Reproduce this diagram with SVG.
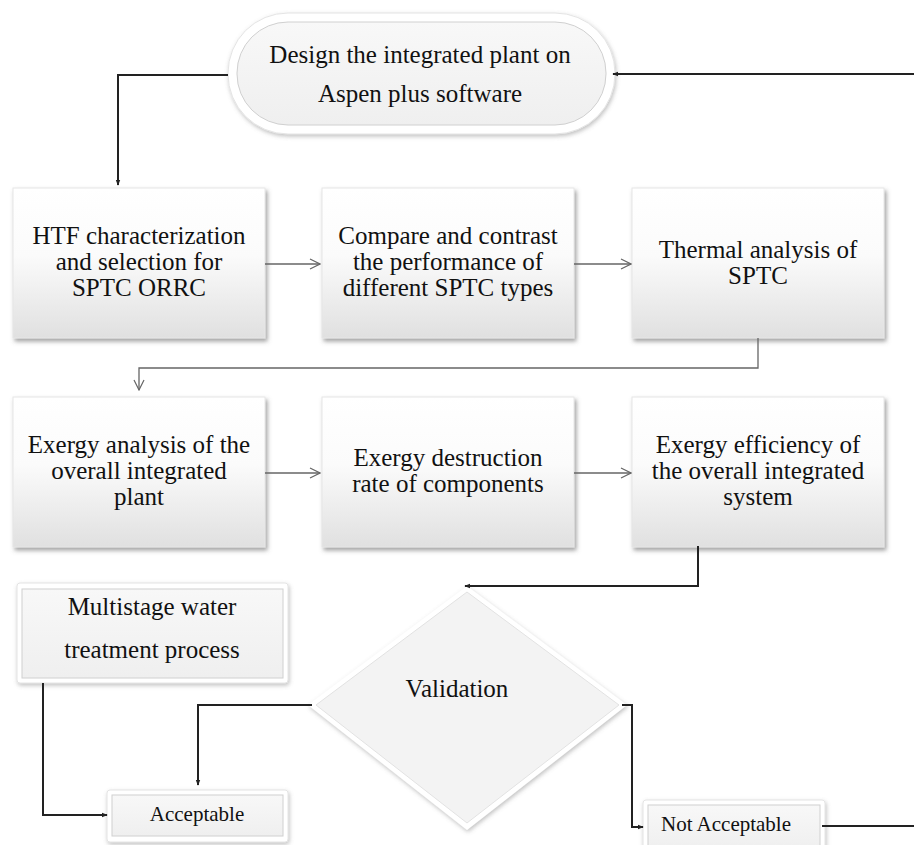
<svg xmlns="http://www.w3.org/2000/svg" width="914" height="845" viewBox="0 0 914 845">
<defs>
<linearGradient id="boxGrad" x1="0" y1="0" x2="0" y2="1">
<stop offset="0" stop-color="#ffffff"/>
<stop offset="0.45" stop-color="#fbfbfb"/>
<stop offset="1" stop-color="#e0e0e0"/>
</linearGradient>
<linearGradient id="softGrad" x1="0" y1="0" x2="0" y2="1">
<stop offset="0" stop-color="#f8f8f8"/>
<stop offset="1" stop-color="#efefef"/>
</linearGradient>
<filter id="shadow" x="-10%" y="-10%" width="125%" height="130%">
<feDropShadow dx="2" dy="3" stdDeviation="2" flood-color="#555" flood-opacity="0.55"/>
</filter>
<filter id="softShadow" x="-10%" y="-10%" width="125%" height="130%">
<feDropShadow dx="1" dy="2" stdDeviation="2" flood-color="#777" flood-opacity="0.45"/>
</filter>
<marker id="openArrow" viewBox="0 0 12 12" refX="11" refY="6" markerWidth="12" markerHeight="12" markerUnits="userSpaceOnUse" orient="auto">
<path d="M1,1 L11,6 L1,11" fill="none" stroke="#666" stroke-width="1.2"/>
</marker>
<marker id="solidArrow" viewBox="0 0 8 8" refX="7" refY="4" markerWidth="6" markerHeight="6" markerUnits="userSpaceOnUse" orient="auto">
<path d="M0,1 L8,4 L0,7 Z" fill="#222"/>
</marker>
</defs>
<style>
text { font-family: "Liberation Serif", "Times New Roman", serif; fill: #111; text-anchor: middle; }
.big { font-size: 25px; }
.small { font-size: 21px; }
.box { fill: url(#boxGrad); stroke: #e6e6e6; stroke-width: 1; filter: url(#shadow); }
.outer { fill: #ffffff; stroke: #e4e4e4; stroke-width: 1; filter: url(#softShadow); }
.inner { fill: url(#softGrad); stroke: #d0d0d0; stroke-width: 1; }
.thin { fill: none; stroke: #666; stroke-width: 1.3; }
.thick { fill: none; stroke: #222; stroke-width: 2; }
</style>

<g id="start">
<rect class="outer" x="228" y="13" width="387" height="121" rx="60"/>
<rect class="inner" x="237" y="22" width="369" height="103" rx="51"/>
<text class="big" x="420" y="63">Design the integrated plant on</text>
<text class="big" x="420" y="102">Aspen plus software</text>
</g>

<g id="htf">
<rect class="box" x="13" y="188" width="252" height="150"/>
<text class="big" x="139" y="244">HTF characterization</text>
<text class="big" x="139" y="270">and selection for</text>
<text class="big" x="139" y="296">SPTC ORRC</text>
</g>

<g id="compare">
<rect class="box" x="322" y="188" width="252" height="150"/>
<text class="big" x="448" y="244">Compare and contrast</text>
<text class="big" x="448" y="270">the performance of</text>
<text class="big" x="448" y="296">different SPTC types</text>
</g>

<g id="thermal">
<rect class="box" x="632" y="188" width="252" height="150"/>
<text class="big" x="758" y="258">Thermal analysis of</text>
<text class="big" x="758" y="284">SPTC</text>
</g>

<g id="exergy-analysis">
<rect class="box" x="13" y="397" width="252" height="150"/>
<text class="big" x="139" y="453">Exergy analysis of the</text>
<text class="big" x="139" y="479">overall integrated</text>
<text class="big" x="139" y="505">plant</text>
</g>

<g id="exergy-destruction">
<rect class="box" x="322" y="397" width="252" height="150"/>
<text class="big" x="448" y="466">Exergy destruction</text>
<text class="big" x="448" y="492">rate of components</text>
</g>

<g id="exergy-efficiency">
<rect class="box" x="632" y="397" width="252" height="150"/>
<text class="big" x="758" y="453">Exergy efficiency of</text>
<text class="big" x="758" y="479">the overall integrated</text>
<text class="big" x="758" y="505">system</text>
</g>

<g id="multistage">
<rect class="outer" x="17" y="583" width="271" height="100" rx="3"/>
<rect class="inner" x="22" y="589" width="261" height="89"/>
<text class="big" x="152" y="615">Multistage water</text>
<text class="big" x="152" y="658">treatment process</text>
</g>

<g id="validation">
<polygon points="467,586 627,705 467,830 308,705" fill="#ffffff" filter="url(#softShadow)"/>
<polygon points="467,592 619,705 467,823 316,705" fill="#f3f3f3" stroke="#e2e2e2" stroke-width="1"/>
<text class="big" x="457" y="697">Validation</text>
</g>

<g id="acceptable">
<rect class="outer" x="107" y="790" width="181" height="52" rx="3"/>
<rect class="inner" x="112" y="795" width="171" height="41"/>
<text class="small" x="197" y="821">Acceptable</text>
</g>

<g id="not-acceptable">
<rect class="outer" x="643" y="800" width="182" height="55" rx="3"/>
<rect class="inner" x="648" y="805" width="172" height="45"/>
<text class="small" x="726" y="831">Not Acceptable</text>
</g>

<g id="connectors">
<path class="thick" d="M228,75 H118 V185" marker-end="url(#solidArrow)"/>
<path class="thick" d="M914,74 H613" marker-end="url(#solidArrow)"/>
<path class="thin" d="M265,264 H320" marker-end="url(#openArrow)"/>
<path class="thin" d="M574,264 H631" marker-end="url(#openArrow)"/>
<path class="thin" d="M758,338 V368 H139 V390" marker-end="url(#openArrow)"/>
<path class="thin" d="M265,473 H320" marker-end="url(#openArrow)"/>
<path class="thin" d="M574,473 H631" marker-end="url(#openArrow)"/>
<path class="thick" d="M698,546 V586 H465" marker-end="url(#solidArrow)"/>
<path class="thick" d="M312,705 H198 V785" marker-end="url(#solidArrow)"/>
<path class="thick" d="M622,705 H632 V827 H643" marker-end="url(#solidArrow)"/>
<path class="thick" d="M43,683 V815 H107" marker-end="url(#solidArrow)"/>
<path class="thick" d="M822,826 H914"/>
</g>
</svg>
